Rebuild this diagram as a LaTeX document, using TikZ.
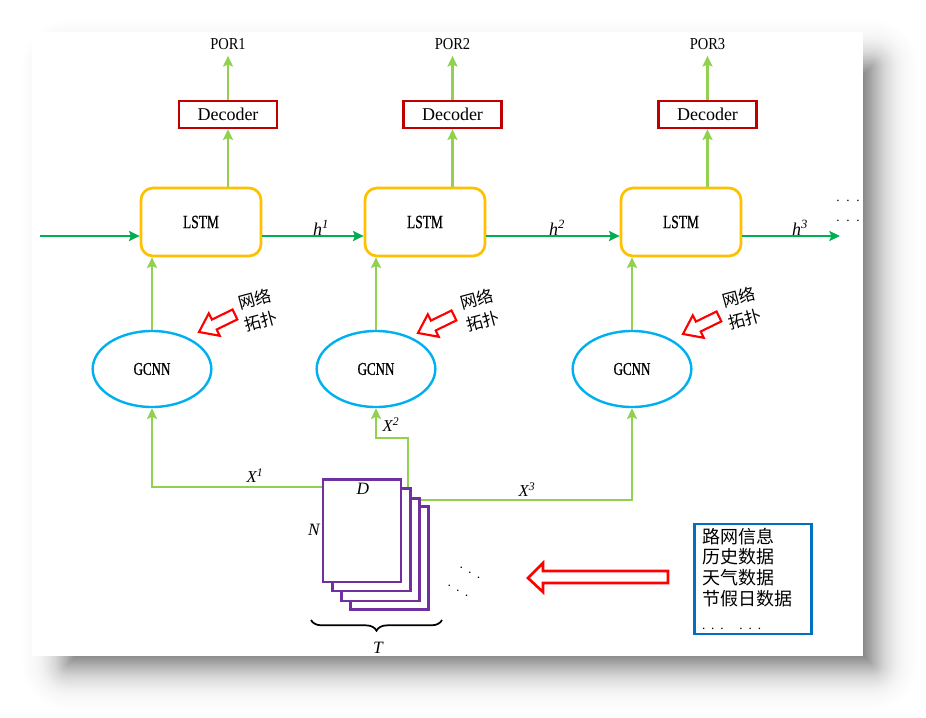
\documentclass[tikz,border=0pt]{standalone}
\usepackage{fontspec}
\setmainfont{Liberation Serif}
\newfontfamily\cjk{Noto Sans CJK SC}
\newfontfamily\condm[FakeStretch=0.72,FakeBold=0.6]{Liberation Serif}
\newfontfamily\condp[FakeStretch=0.87]{Liberation Serif}
\usetikzlibrary{arrows.meta,decorations.pathreplacing,shapes.geometric}
\definecolor{lstmc}{HTML}{FFC000}
\definecolor{decc}{HTML}{C00000}
\definecolor{gcnnc}{HTML}{00B0F0}
\definecolor{lgreen}{HTML}{92D050}
\definecolor{dgreen}{HTML}{00B050}
\definecolor{purp}{HTML}{7030A0}
\definecolor{infoc}{HTML}{0070C0}
\definecolor{redc}{HTML}{FF0000}
\newcommand{\tdots}[1]{.\kern#1.\kern#1.}
\begin{document}
\begin{tikzpicture}[x=0.75pt,y=-0.75pt,
  lstmbox/.style={draw=lstmc, line width=2pt, rounded corners=9pt, minimum width=90pt, minimum height=51pt, fill=white, font=\condm\fontsize{14}{16}\selectfont},
  decbox/.style={draw=decc, line width=1.6pt, minimum width=73.5pt, minimum height=20.5pt, inner sep=0pt, font=\fontsize{13.5}{15}\selectfont},
  gcnn/.style={ellipse, draw=gcnnc, line width=1.8pt, minimum width=89pt, minimum height=57pt, inner sep=0pt, font=\condm\fontsize{13.5}{15}\selectfont},
  portext/.style={inner sep=0pt, font=\condp\fontsize{12.5}{14}\selectfont},
  lgarrow/.style={draw=lgreen, line width=1.6pt, -{Stealth[length=8pt,width=7.5pt,inset=1.5pt]}},
  dgarrow/.style={draw=dgreen, line width=1.6pt, -{Stealth[length=8pt,width=7.5pt,inset=1.5pt]}},
  page/.style={draw=purp, line width=2pt, fill=white, minimum width=58.5pt, minimum height=77pt, inner sep=0pt},
  mlabel/.style={inner sep=0pt, font=\fontsize{12.5}{14}\selectfont\itshape},
  topotext/.style={align=center, inner sep=0pt, font=\cjk\fontsize{12.5}{17}\selectfont},
  infobox/.style={draw=infoc, line width=2pt, minimum width=88pt, minimum height=82.5pt, align=left, text width=76.5pt, inner xsep=0pt, inner ysep=2pt, font=\cjk\fontsize{13.5}{15.5}\selectfont},
  dotstext/.style={inner sep=0pt, font=\fontsize{10}{12}\selectfont},
  toparrow/.pic={\draw[redc, line width=1.6pt, fill=white, line join=miter] (0,0) -- (17,-12.5) -- (17,-5.5) -- (40,-5.5) -- (40,5.5) -- (17,5.5) -- (17,12.5) -- cycle;}
]
\useasboundingbox (0,0) rectangle (926,718);
% soft shadow: nested layers approximating a gaussian blur (sigma 20px) of rect (68,66)-(872,664)
\foreach \o in {60,58,...,-12}{
  \pgfmathsetmacro\Tcur{0.7/(1+exp(1.702*\o/20))}
  \pgfmathsetmacro\Tprev{0.7/(1+exp(1.702*(\o+2)/20))}
  \pgfmathsetmacro\al{1-(1-\Tcur)/(1-\Tprev)}
  \pgfmathsetmacro\rc{max(0.1,0.75*\o)}
  \fill[black, opacity=\al, rounded corners=\rc pt] (68-\o,66-\o) rectangle (872+\o,664+\o);
}
\fill[white] (32,32) rectangle (863,656);

% LSTM cells
\node[lstmbox] (l1) at (201,222) {LSTM};
\node[lstmbox] (l2) at (425,222) {LSTM};
\node[lstmbox] (l3) at (681,222) {LSTM};
% decoders
\node[decbox] (d1) at (228,114.5) {Decoder};
\node[decbox] (d2) at (452.5,114.5) {Decoder};
\node[decbox] (d3) at (707.5,114.5) {Decoder};
% outputs
\node[portext] (p1) at (228,44) {POR1};
\node[portext] (p2) at (452.5,44) {POR2};
\node[portext] (p3) at (707.5,44) {POR3};
% GCNN
\node[gcnn] (g1) at (152,369) {GCNN};
\node[gcnn] (g2) at (376,369) {GCNN};
\node[gcnn] (g3) at (632,369) {GCNN};

\foreach \k in {1,2,3}{
  \draw[lgarrow] (d\k.south |- l\k.north) -- (d\k.south);
  \draw[lgarrow, shorten >=4.5pt] (d\k.north) -- (p\k.south);
  \draw[lgarrow] (g\k.north) -- (g\k.north |- l\k.south);
}

% hidden state chain
\coordinate (in) at (40,236);
\coordinate (out) at (840,236);
\draw[dgarrow] (in) -- (in -| l1.west);
\draw[dgarrow] (l1.east |- in) -- (l2.west |- in);
\draw[dgarrow] (l2.east |- in) -- (l3.west |- in);
\draw[dgarrow] (l3.east |- in) -- (out);
\node[mlabel, font=\fontsize{13.5}{15}\selectfont\itshape] (h1) at (321,228) {h\textsuperscript{1}};
\node[mlabel, font=\fontsize{13.5}{15}\selectfont\itshape] (h2) at (557,228) {h\textsuperscript{2}};
\node[mlabel, font=\fontsize{13.5}{15}\selectfont\itshape] (h3) at (800,228) {h\textsuperscript{3}};
\node[dotstext] (dt1) at (848,201) {\tdots{5pt}};
\node[dotstext] (dt2) at (848,221) {\tdots{5pt}};

% network topology arrows
\pic[rotate=26] at (199,332) {toparrow};
\pic[rotate=26] at (418,333) {toparrow};
\pic[rotate=26] at (683,334) {toparrow};
\node[topotext, rotate=15] (t1) at (258,310) {网络\\拓扑};
\node[topotext, rotate=15] (t2) at (480,310) {网络\\拓扑};
\node[topotext, rotate=15] (t3) at (742,308) {网络\\拓扑};

% data stack
\node[page] (pg4) at (389.5,558) {};
\node[page] (pg3) at (380.5,549.5) {};
\node[page] (pg2) at (371.5,539.5) {};
\node[page] (pg1) at (362,530.5) {};
\node[mlabel, font=\fontsize{13}{15}\selectfont\itshape] (lD) at (363,489) {D};
\node[mlabel, font=\fontsize{13}{15}\selectfont\itshape] (lN) at (314,530) {N};
\node[mlabel, font=\fontsize{13}{15}\selectfont\itshape] (lT) at (378,648) {T};
\draw[line width=1.3pt, decorate, decoration={brace, amplitude=8pt, mirror}] (311,620) -- (442,620);

% inputs to GCNN
\draw[lgarrow] ([yshift=-6.75pt]pg1.north west) -| (g1.south);
\draw[lgarrow] ([xshift=-3pt]pg2.north east) -- ++(0,-49) -| (g2.south);
\draw[lgarrow] ([yshift=-2.25pt]pg3.north east) -| (g3.south);
\node[mlabel] (x1) at (255,476) {X\textsuperscript{1}};
\node[mlabel] (x2) at (391,425) {X\textsuperscript{2}};
\node[mlabel] (x3) at (527,490) {X\textsuperscript{3}};

\node[dotstext, rotate=-30] (dd1) at (470,573) {\tdots{4.9pt}};
\node[dotstext, rotate=-30] (dd2) at (458,591) {\tdots{4.9pt}};

% data sources
\draw[redc, line width=2pt, fill=white, line join=miter] (528,578) -- (543,563) -- (543,571) -- (668,571) -- (668,583) -- (543,583) -- (543,592) -- cycle;
\node[infobox] (info) at (753,579) {路网信息\\历史数据\\天气数据\\节假日数据\\[3pt]{\rmfamily\fontsize{10}{12}\selectfont\tdots{4.4pt}\kern11.75pt\tdots{4.4pt}}};
\end{tikzpicture}
\end{document}
